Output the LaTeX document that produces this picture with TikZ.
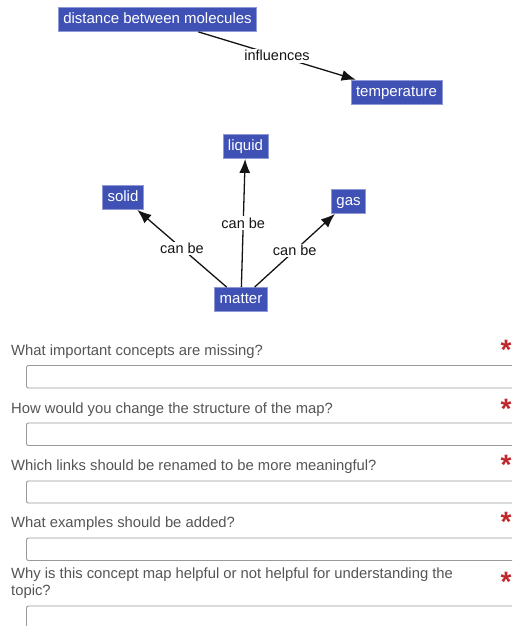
\documentclass[tikz,border=0pt]{standalone}
\usepackage{fontspec}
\setmainfont{Liberation Sans}
\usetikzlibrary{arrows.meta}

\definecolor{concept}{HTML}{3F51B5}
\definecolor{conceptedge}{HTML}{8E99D6}
\definecolor{linkcol}{HTML}{141414}
\definecolor{qtext}{HTML}{555555}
\definecolor{fieldedge}{HTML}{9A9A9A}
\definecolor{reqstar}{HTML}{C0282D}

\tikzset{
  concept/.style={fill=concept, draw=conceptedge, line width=0.8pt, text=white,
    font=\fontsize{15}{17}\selectfont, inner xsep=5pt, inner ysep=0pt,
    minimum height=24pt, text height=11pt, text depth=3pt},
  link/.style={draw=linkcol, line width=1.3pt, -{Latex[length=14pt,width=11pt]}},
  linklabel/.style={fill=white, text=linkcol, font=\fontsize{14.5}{17}\selectfont,
    inner sep=1.5pt},
  question/.style={anchor=base west, text=qtext, font=\fontsize{14.8}{17}\selectfont,
    inner sep=0pt},
  field/.style={draw=fieldedge, line width=0.9pt, rounded corners=2pt, fill=white},
  required/.style={text=reqstar, font=\bfseries\fontsize{28}{28}\selectfont,
    inner sep=0pt, anchor=base}
}

\begin{document}
\begin{tikzpicture}[x=1pt,y=-1pt]
  \clip (0,0) rectangle (512,626);
  \fill[white] (0,0) rectangle (512,626);

  % concept map: temperature
  \node[concept] (dist) at (157.5,19.5) {distance between molecules};
  \node[concept] (temp) at (396.5,92) {temperature};
  \draw[link] (dist) -- node[linklabel] {influences} (temp);

  % concept map: states of matter
  \node[concept] (liquid) at (245.5,146.5) {liquid};
  \node[concept] (solid)  at (123,197.5)   {solid};
  \node[concept] (gas)    at (348.5,201.5) {gas};
  \node[concept] (matter) at (241,299.5)   {matter};
  \draw[link] (matter) -- node[linklabel] {can be} (liquid);
  \draw[link] (matter) -- node[linklabel] {can be} (solid);
  \draw[link] (matter) -- node[linklabel] {can be} (gas);

  % review questions with their answer fields
  \node[question] (q1) at (11,355) {What important concepts are missing?};
  \node[required] (r1) at (506,359) {*};
  \draw[field] (26.5,365.5) rectangle (530,388);

  \node[question] (q2) at (11,413) {How would you change the structure of the map?};
  \node[required] (r2) at (506,418) {*};
  \draw[field] (26.5,423) rectangle (530,445.5);

  \node[question] (q3) at (11,470) {Which links should be renamed to be more meaningful?};
  \node[required] (r3) at (506,474) {*};
  \draw[field] (26.5,481) rectangle (530,503);

  \node[question] (q4) at (11,527.5) {What examples should be added?};
  \node[required] (r4) at (506,531) {*};
  \draw[field] (26.5,538) rectangle (530,560.5);

  \node[question] (q5a) at (11,578) {Why is this concept map helpful or not helpful for understanding the};
  \node[question] (q5b) at (11,595) {topic?};
  \node[required] (r5) at (506,591) {*};
  \draw[field] (26.5,606) rectangle (530,640);
\end{tikzpicture}
\end{document}
